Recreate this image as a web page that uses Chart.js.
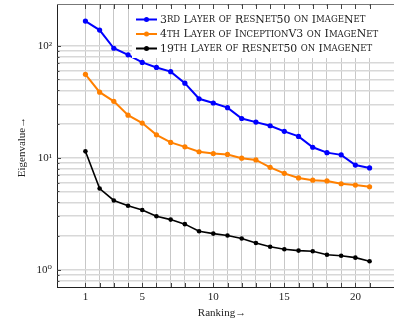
<!DOCTYPE html>
<html>
<head>
<meta charset="utf-8">
<script src="https://cdn.jsdelivr.net/npm/chart.js@4"></script>
<style>
  html, body { margin: 0; padding: 0; background: #fff; overflow: hidden; }
  canvas { display: block; }
</style>
</head>
<body>
<canvas id="chart" width="402" height="322"></canvas>
<script>
// --- Dane ---
const rankings = [1, 2, 3, 4, 5, 6, 7, 8, 9, 10, 11, 12, 13, 14, 15, 16, 17, 18, 19, 20, 21];
const resnet3 = [166, 138, 95, 83, 71, 64, 58.7, 46.3, 33.6, 30.8, 28.0, 22.4, 20.8, 19.3, 17.2, 15.5, 12.4, 11.1, 10.6, 8.6, 8.1];
const inception4 = [55.6, 38.5, 31.9, 24.0, 20.4, 16.0, 13.7, 12.5, 11.3, 10.9, 10.7, 9.9, 9.55, 8.2, 7.25, 6.6, 6.3, 6.2, 5.85, 5.7, 5.5];
const resnet19 = [11.4, 5.3, 4.15, 3.72, 3.41, 3.0, 2.8, 2.55, 2.2, 2.1, 2.02, 1.9, 1.73, 1.6, 1.52, 1.48, 1.46, 1.36, 1.33, 1.28, 1.19];
const seriesNames = ['3rd Layer of ResNet50 on ImageNet', '4th Layer of InceptionV3 on ImageNet', '19th Layer of ResNet50 on ImageNet'];
const xTickLabels = [1, 5, 10, 15, 20];
const yGridValues = [0.8, 0.9, 1, 2, 3, 4, 5, 6, 7, 8, 9, 10, 20, 30, 40, 50, 60, 70, 80, 90, 100];
const yTickLabels = { 1: '10⁰', 10: '10¹', 100: '10²' };

const SERIF = '"Liberation Serif", "DejaVu Serif", serif';
const LEGEND_FONT = '"DejaVu Serif", serif';
const colors = ['#0000ff', '#ff8000', '#000000'];

// --- Kapitaliki rysowane ręcznie ---
function drawSmallCaps(ctx, text, x, y, size) {
  let cx = x;
  for (const ch of text) {
    const lower = ch !== ch.toUpperCase();
    ctx.font = (lower ? size * 0.78 : size) + 'px ' + LEGEND_FONT;
    const c = ch.toUpperCase();
    ctx.fillText(c, cx, y);
    cx += ctx.measureText(c).width;
  }
}

const extras = {
  id: 'extras',
  afterDatasetsDraw(chart) {
    const ctx = chart.ctx;
    ctx.save();
    // tło legendy
    ctx.fillStyle = '#fff';
    ctx.fillRect(132, 6, 270, 52);
    const rows = [19.5, 34, 48.5];
    seriesNames.forEach((name, i) => {
      const y = rows[i];
      ctx.strokeStyle = colors[i];
      ctx.lineWidth = 2;
      ctx.beginPath();
      ctx.moveTo(136, y);
      ctx.lineTo(157, y);
      ctx.stroke();
      ctx.fillStyle = colors[i];
      ctx.beginPath();
      ctx.arc(146.5, y, 2.5, 0, Math.PI * 2);
      ctx.fill();
      ctx.fillStyle = '#222';
      ctx.textBaseline = 'middle';
      drawSmallCaps(ctx, name, 160, y + 0.5, 10.9);
    });
    ctx.restore();
  },
  afterDraw(chart) {
    const ctx = chart.ctx;
    const a = chart.chartArea;
    const xs = chart.scales.x;
    const ys = chart.scales.y;
    ctx.save();
    // górna ramka
    ctx.strokeStyle = '#777';
    ctx.lineWidth = 1;
    ctx.beginPath();
    ctx.moveTo(a.left, a.top + 0.5);
    ctx.lineTo(a.right, a.top + 0.5);
    ctx.stroke();
    // znaczniki do środka
    ctx.strokeStyle = '#444';
    rankings.forEach(v => {
      const px = Math.round(xs.getPixelForValue(v)) + 0.5;
      ctx.beginPath();
      ctx.moveTo(px, a.top);
      ctx.lineTo(px, a.top + 5);
      ctx.moveTo(px, a.bottom);
      ctx.lineTo(px, a.bottom - 4);
      ctx.stroke();
    });
    yGridValues.forEach(v => {
      const py = Math.round(ys.getPixelForValue(v)) + 0.5;
      ctx.beginPath();
      ctx.moveTo(a.left, py);
      ctx.lineTo(a.left + (yTickLabels[v] ? 4 : 2.5), py);
      ctx.stroke();
    });
    // tytuły osi
    ctx.fillStyle = '#222';
    ctx.font = '11px ' + SERIF;
    ctx.textAlign = 'center';
    ctx.textBaseline = 'middle';
    ctx.fillText('Ranking→', 222, 313);
    ctx.translate(22.5, 147);
    ctx.rotate(-Math.PI / 2);
    ctx.fillText('Eigenvalue→', 0, 0);
    ctx.restore();
  }
};

new Chart(document.getElementById('chart'), {
  type: 'line',
  data: {
    labels: rankings,
    datasets: [resnet3, inception4, resnet19].map((vals, i) => ({
      label: seriesNames[i],
      data: vals.map((v, j) => ({ x: rankings[j], y: v })),
      borderColor: colors[i],
      backgroundColor: colors[i],
      borderWidth: i === 2 ? 1.6 : 2,
      pointRadius: i === 2 ? 2.3 : 2.6,
      pointBorderWidth: 0,
      tension: 0
    }))
  },
  options: {
    responsive: false,
    animation: false,
    layout: { padding: { top: 2, right: 3.6, left: 0, bottom: 0 } },
    plugins: { legend: { display: false }, tooltip: { enabled: false } },
    scales: {
      x: {
        type: 'linear',
        min: -1,
        max: 23,
        afterBuildTicks: s => { s.ticks = rankings.map(v => ({ value: v })); },
        afterFit: s => { s.height = 35; s.paddingLeft = 0; s.paddingRight = 0; },
        grid: { color: 'rgba(0,0,0,0.22)', lineWidth: 1, drawTicks: false },
        border: { color: '#222', width: 1 },
        ticks: {
          autoSkip: false,
          maxRotation: 0,
          padding: 4,
          color: '#222',
          font: { family: SERIF, size: 11 },
          callback: v => xTickLabels.includes(v) ? String(v) : ''
        }
      },
      y: {
        type: 'logarithmic',
        min: 0.714,
        max: 236,
        afterBuildTicks: s => { s.ticks = yGridValues.map(v => ({ value: v })); },
        afterFit: s => { s.width = 57; s.paddingTop = 0; s.paddingBottom = 0; },
        grid: { color: '#d8d8d8', lineWidth: 1.5, drawTicks: false },
        border: { color: '#222', width: 1 },
        ticks: {
          autoSkip: false,
          padding: 5,
          color: '#222',
          font: { family: SERIF, size: 11 },
          callback: v => yTickLabels[v] || ''
        }
      }
    }
  },
  plugins: [extras]
});
</script>
</body>
</html>
